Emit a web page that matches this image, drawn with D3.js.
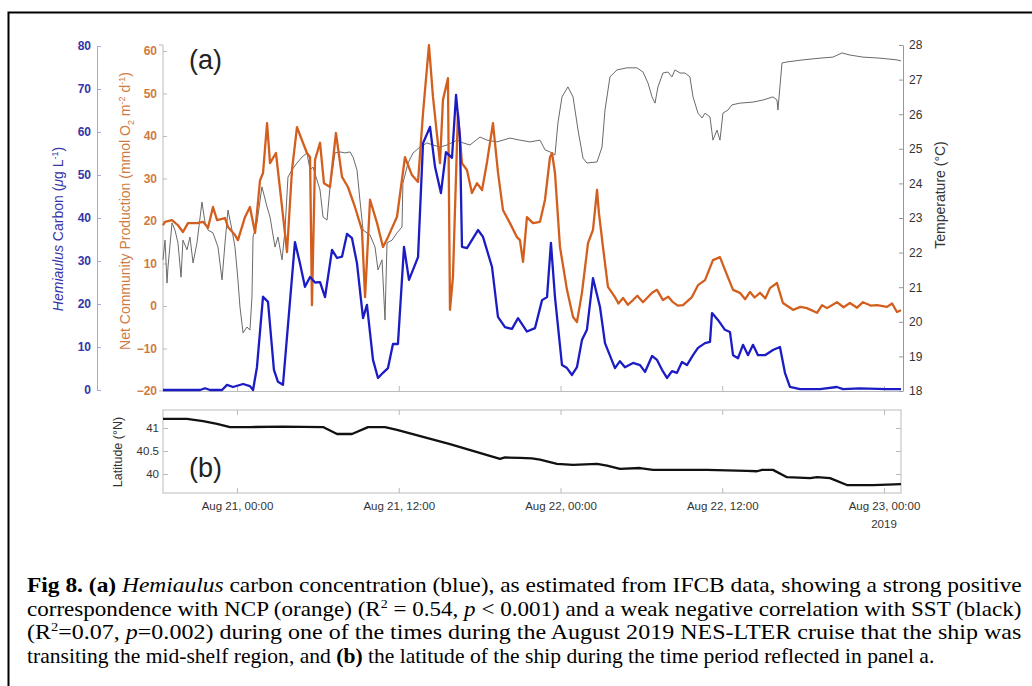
<!DOCTYPE html>
<html>
<head>
<meta charset="utf-8">
<script src="https://cdn.jsdelivr.net/npm/d3@7"></script>
<style>
  body { margin: 0; background: #fff; }
  svg { display: block; }
  .tick text { font-family: "Liberation Sans", Arial, sans-serif; }
</style>
</head>
<body>
<script>
// hours are counted from Aug 21 2019, 00:00
let carbonHours = [-5.49, -2.74, -2.37, -2.0, -1.11, -0.74, -0.30, 0.45, 0.96, 1.19, 1.48, 1.93, 2.30, 2.74, 3.04, 3.41,
  4.30, 4.67, 5.04, 5.42, 5.79, 6.16, 6.53, 7.05, 7.42, 7.79, 8.16, 8.53, 8.90, 9.35, 9.64, 10.09, 10.46, 10.83, 11.2,
  11.57, 11.94, 12.39, 12.76, 13.43, 13.8, 14.32, 14.69, 15.13, 15.5, 15.95, 16.25, 16.54, 16.69, 17.06, 17.88, 18.25,
  18.92, 19.36, 19.88, 20.4, 20.85, 21.51, 22.11, 22.63, 23.0, 23.29, 23.59, 24.11, 24.48, 24.85, 25.22, 25.59, 25.96,
  26.41, 26.93, 27.3, 28.04, 28.41, 28.78, 29.38, 29.9, 30.27, 30.79, 31.16, 31.53, 31.9, 32.27, 32.64, 33.01, 33.38,
  33.83, 34.2, 34.72, 35.09, 35.24, 35.68, 36.2, 36.57, 36.8, 37.17, 37.54, 37.91, 38.28, 38.65, 39.17, 39.76, 40.28,
  40.65, 41.02, 41.77, 43.25, 44.5, 44.96, 46.2, 48.2, 49.26];
let carbonValues = [0, 0, 0.4, 0, 0, 1.2, 0.7, 1.4, 0.9, 0, 5.3, 21.7, 20.5, 4.7, 1.9, 1.2,
  34.4, 29.5, 24, 26.3, 25, 25.1, 21.6, 32.6, 30.7, 31, 36.3, 35.3, 29.5, 16.7, 19.8, 7, 2.8, 4, 5.1,
  10.7, 10.7, 33.3, 25.6, 30.9, 57.4, 61.2, 51.9, 45.8, 55.3, 54, 68.6, 58.8, 33.3, 33, 37.2, 35.6,
  28.6, 17, 14.6, 14.2, 16.7, 13.6, 14.4, 20.9, 21.6, 34.2, 21.6, 5.8, 5.1, 3.5, 5.3, 11.6, 14,
  26, 19.3, 10.9, 5.1, 6.7, 5.3, 6.3, 5.8, 4.2, 7.9, 7, 4.7, 2.8, 4.4, 4.0, 6.5, 5.8,
  8.1, 9.8, 10.9, 11.2, 17.9, 16.3, 14, 13.5, 8.1, 7.4, 10.5, 8.1, 10.5, 8.1, 8.1, 9.3, 10,
  4, 0.7, 0.2, 0.2, 0.7, 0.2, 0.4, 0.2, 0.2];

let ncpHours = [-5.49, -5.34, -4.82, -4.38, -4.01, -3.64, -2.97, -2.52, -2.15, -1.78, -1.48, -0.89, -0.67, -0.15, 0.07,
  0.59, 0.96, 1.34, 1.71, 1.93, 2.23, 2.45, 2.89, 3.34, 3.71, 4.08, 4.45, 4.82, 5.19, 5.42, 5.56, 5.79, 6.16, 6.45,
  6.9, 7.34, 7.79, 8.23, 8.75, 9.27, 9.5, 9.87, 10.39, 10.83, 11.2, 11.87, 12.46, 12.98, 13.43, 13.8, 14.24, 14.54,
  15.06, 15.28, 15.65, 15.8, 16.02, 16.39, 16.69, 17.06, 17.43, 17.8, 18.18, 18.55, 18.99, 19.36, 19.73, 20.25, 20.77,
  20.99, 21.22, 21.51, 21.96, 22.48, 22.85, 23.22, 23.37, 23.59, 23.96, 24.48, 24.93, 25.22, 25.59, 26.04, 26.41,
  26.71, 26.85, 27.15, 27.52, 28.04, 28.3, 28.64, 29.0, 29.38, 29.7, 30.12, 30.79, 31.16, 31.6, 32.0, 32.34, 32.7,
  33.09, 33.75, 34.2, 34.72, 35.31, 35.83, 36.2, 36.8, 37.31, 37.7, 38.06, 38.4, 38.8, 39.2, 39.54, 40.06, 40.5,
  41.25, 41.8, 42.28, 43.03, 43.4, 43.77, 44.51, 45.0, 45.47, 46.0, 46.44, 47.0, 47.48, 48.22, 48.6, 48.96, 49.26];
let ncpValues = [19, 19.8, 20.2, 19, 17.4, 19.5, 19.5, 19.8, 18.4, 23.3, 20.2, 20.7, 18.6, 16.7, 15.5,
  20.9, 23.3, 17.2, 29.6, 31.3, 43, 33.6, 36, 23.3, 12.7, 32, 42.1, 39, 36, 35, 0.2, 34.4, 38.4, 28.9,
  28, 40.7, 30.4, 28, 23.3, 17.9, 2.1, 25, 19.5, 13.9, 16.2, 21, 35, 30.8, 29.2, 45.4, 61.4, 49.2,
  33.6, 48.5, 53.6, -0.9, 6.8, 45.4, 33.6, 32, 26.6, 28.9, 27.3, 33.9, 43, 31.5, 22.6, 19.5, 16.2,
  15.5, 10.4, 20.9, 19.5, 19.8, 25, 35, 36, 31.3, 13.9, 3.8, -2.6, -3.8, 3.1, 14.8, 17.9,
  27.3, 21.9, 13.9, 4.5, 2.1, 0.6, 1.9, 0.3, 1.4, 2.4, 0.9, 3.1, 3.8, 1.4, 2.2, 0.9, 0.1,
  0.2, 2.1, 4.9, 6.1, 10.8, 11.5, 8.5, 3.8, 3.1, 1.6, 3.3, 2.0, 3.1, 1.8, 4.2, 5.4, 0.7,
  -0.9, -0.2, -0.5, -1.6, 0.2, -0.5, 0.9, -0.3, 0.7, -0.4, 0.9, 0.1, 0.2, -0.2, 0.6, -1.4, -1.0];

let tempHours = [-5.49, -5.34, -5.19, -5.12, -4.82, -4.60, -4.38, -4.15, -4.01, -3.71, -3.49, -3.26, -2.97, -2.60, -2.37,
  -2.15, -1.78, -1.41, -1.11, -0.89, -0.67, -0.37, -0.15, 0.07, 0.22, 0.45, 0.74, 0.96, 1.11, 1.19, 1.48, 1.85, 2.23,
  2.45, 2.82, 3.04, 3.34, 3.56, 3.78, 4.08, 4.45, 4.82, 5.19, 5.42, 5.64, 5.93, 6.16, 6.38, 6.68, 6.90, 7.27, 7.64,
  8.01, 8.38, 8.61, 8.90, 9.12, 9.35, 9.87, 10.24, 10.46, 10.76, 10.98, 11.13, 11.50, 11.87, 12.24, 12.31, 12.69,
  13.06, 13.58, 14.09, 14.54, 15.06, 15.58, 16.32, 16.77, 17.28, 18.03, 18.55, 19.29, 20.25, 20.99, 21.74, 22.48,
  22.85, 23.22, 23.59, 23.81, 24.11, 24.55, 24.93, 25.30, 25.67, 25.96, 26.71, 27.08, 27.30, 27.67, 28.19, 28.93,
  29.67, 30.12, 30.49, 30.79, 31.01, 31.23, 31.60, 31.97, 32.27, 32.49, 32.86, 33.23, 33.60, 33.83, 34.20, 34.50,
  34.72, 35.09, 35.31, 35.61, 35.83, 36.05, 36.42, 36.72, 37.31, 38.28, 39.02, 39.76, 40.06, 40.13, 40.43, 40.80,
  41.99, 43.25, 44.21, 44.88, 45.47, 46.44, 47.70, 48.96, 49.26];
let tempValues = [21.79, 22.36, 21.12, 21.58, 22.86, 22.65, 22.28, 21.29, 22.36, 22.08, 22.45, 21.7, 22.28, 23.46, 22.86,
  22.65, 22.57, 22.16, 21.21, 22.28, 23.23, 22.65, 22.16, 21.21, 20.43, 19.68, 19.85, 19.76, 20.72, 22.45, 22.86, 23.9, 23.32,
  23.03, 22.16, 22.45, 21.79, 22.65, 24.18, 24.39, 24.59, 24.76, 24.88, 24.39, 24.47, 24.1, 23.81, 23.03, 22.94, 23.9, 24.88, 24.91,
  24.88, 24.91, 24.76, 24.39, 23.52, 22.65, 22.51, 22.16, 21.5, 21.79, 20.05, 22.28, 22.36, 22.57, 22.74, 24.01, 24.59,
  24.88, 25.05, 25.17, 25.11, 25.05, 25.11, 25.25, 25.17, 25.11, 25.34, 25.25, 25.2, 25.31, 25.25, 25.2, 25.25,
  24.97, 24.91, 24.82, 25.75, 26.5, 26.79, 26.5, 25.54, 24.73, 24.59, 24.62, 25.05, 26.12, 27.08, 27.28, 27.34,
  27.34, 27.22, 26.9, 26.5, 26.32, 26.79, 27.19, 27.22, 27.08, 27.28, 27.19, 27.19, 27.08, 26.5, 26.03, 25.89,
  26.03, 25.92, 25.25, 25.54, 25.25, 26.03, 26.12, 26.27, 26.32, 26.35, 26.41, 26.5, 26.41, 26.12, 27.48, 27.51,
  27.57, 27.62, 27.65, 27.77, 27.71, 27.65, 27.62, 27.57, 27.54];

let latHours = [-5.49, -3.71, -2.52, -1.48, -0.52, 0.96, 3.41, 6.38, 7.42, 8.53, 9.72, 10.98, 11.87, 15.80, 19.51, 19.88,
  20.99, 21.88, 22.48, 23.74, 24.93, 26.71, 27.45, 28.41, 29.90, 30.86, 34.87, 37.83, 38.58, 38.95, 39.76, 40.80,
  42.51, 43.03, 43.99, 45.25, 47.18, 49.26];
let latValues = [41.2, 41.2, 41.15, 41.09, 41.02, 41.02, 41.03, 41.02, 40.87, 40.87, 41.02, 41.02, 40.96, 40.65, 40.33, 40.36,
  40.35, 40.34, 40.31, 40.22, 40.2, 40.22, 40.18, 40.11, 40.13, 40.09, 40.09, 40.07, 40.06, 40.09, 40.09, 39.93,
  39.91, 39.93, 39.91, 39.76, 39.76, 39.78];

let carbonTicks = [0, 10, 20, 30, 40, 50, 60, 70, 80];
let ncpTicks = [-20, -10, 0, 10, 20, 30, 40, 50, 60];
let tempTicks = [18, 19, 20, 21, 22, 23, 24, 25, 26, 27, 28];
let latTicks = [40, 40.5, 41];
let timeTickHours = [0, 12, 24, 36, 48];

let base = new Date(2019, 7, 21, 0, 0);
let toDate = h => new Date(base.getTime() + h * 3600000);

let svg = d3.select("body").append("svg")
  .attr("width", 1032)
  .attr("height", 686);

svg.append("rect").attr("width", 1032).attr("height", 686).attr("fill", "#fff");
// frame round the figure
svg.append("rect")
  .attr("x", 8.5).attr("y", 12.5)
  .attr("width", 1040).attr("height", 690)
  .attr("fill", "none").attr("stroke", "#000").attr("stroke-width", 2);

let left = 163, right = 901;
let xScale = d3.scaleTime().domain([toDate(-5.49), toDate(49.26)]).range([left, right]);
let yCarbon = d3.scaleLinear().domain([0, 80]).range([390, 46]);
let yNcp = d3.scaleLinear().domain([-20, 60]).range([391, 51]);
let yTemp = d3.scaleLinear().domain([18, 28]).range([391, 45]);
let yLat = d3.scaleLinear().domain([40, 41]).range([474, 428]);

let timeTicks = timeTickHours.map(toDate);
let fmt = d3.timeFormat("%b %d, %H:%M");

function styleAxis(g, lineColor, textColor, size, weight) {
  g.select(".domain").attr("stroke", lineColor);
  g.selectAll(".tick line").attr("stroke", lineColor);
  g.selectAll(".tick text").attr("fill", textColor).style("font-size", size + "px")
    .style("font-weight", weight || "normal");
}

// ---- panel a axes
let aBottom = svg.append("g").attr("transform", "translate(0,391)")
  .call(d3.axisBottom(xScale).tickValues(timeTicks).tickSize(-5).tickSizeOuter(0).tickFormat(""));
styleAxis(aBottom, "#bbb", "#444", 11);

let carbonAxis = svg.append("g").attr("transform", "translate(97,0)")
  .call(d3.axisLeft(yCarbon).tickValues(carbonTicks).tickSize(-4).tickSizeOuter(0).tickPadding(6));
styleAxis(carbonAxis, "#a8a8d8", "#3535a8", 12, "bold");

let ncpAxis = svg.append("g").attr("transform", "translate(163,0)")
  .call(d3.axisLeft(yNcp).tickValues(ncpTicks).tickSize(-4).tickSizeOuter(0).tickPadding(6));
ncpAxis.select(".domain").attr("d", "M-4,45H0V391H-4");
styleAxis(ncpAxis, "#bbb", "#d07a42", 12, "bold");

let tempAxis = svg.append("g").attr("transform", "translate(903,0)")
  .call(d3.axisRight(yTemp).tickValues(tempTicks).tickSize(-4).tickSizeOuter(0).tickPadding(6));
styleAxis(tempAxis, "#999", "#333", 12);

// ---- panel a lines
let tempLine = d3.line().x((d, i) => xScale(toDate(tempHours[i]))).y(d => yTemp(d));
svg.append("path").datum(tempValues).attr("d", tempLine)
  .attr("fill", "none").attr("stroke", "#6a6a6a").attr("stroke-width", 1);

let ncpLine = d3.line().x((d, i) => xScale(toDate(ncpHours[i]))).y(d => yNcp(d));
svg.append("path").datum(ncpValues).attr("d", ncpLine)
  .attr("fill", "none").attr("stroke", "#d35f1f").attr("stroke-width", 2.3).attr("stroke-linejoin", "round");

let carbonLine = d3.line().x((d, i) => xScale(toDate(carbonHours[i]))).y(d => yCarbon(d));
svg.append("path").datum(carbonValues).attr("d", carbonLine)
  .attr("fill", "none").attr("stroke", "#1c1cc4").attr("stroke-width", 2.3).attr("stroke-linejoin", "round");

// axis titles panel a
let carbonTitle = svg.append("text")
  .attr("transform", "translate(63,229) rotate(-90)")
  .attr("text-anchor", "middle")
  .style("font-family", "Liberation Sans, Arial, sans-serif").style("font-size", "14px")
  .attr("fill", "#3535a8");
carbonTitle.append("tspan").style("font-style", "italic").text("Hemiaulus");
carbonTitle.append("tspan").text(" Carbon (");
carbonTitle.append("tspan").style("font-style", "italic").text("\u03bc");
carbonTitle.append("tspan").text("g L");
carbonTitle.append("tspan").attr("dy", -5).style("font-size", "9px").text("-1");
carbonTitle.append("tspan").attr("dy", 5).text(")");

let ncpTitle = svg.append("text")
  .attr("transform", "translate(130,211) rotate(-90)")
  .attr("text-anchor", "middle")
  .style("font-family", "Liberation Sans, Arial, sans-serif").style("font-size", "14px")
  .attr("fill", "#d07a42");
ncpTitle.append("tspan").text("Net Community Production (mmol O");
ncpTitle.append("tspan").attr("dy", 4).style("font-size", "9px").text("2");
ncpTitle.append("tspan").attr("dy", -4).text(" m");
ncpTitle.append("tspan").attr("dy", -5).style("font-size", "9px").text("-2");
ncpTitle.append("tspan").attr("dy", 5).text(" d");
ncpTitle.append("tspan").attr("dy", -5).style("font-size", "9px").text("-1");
ncpTitle.append("tspan").attr("dy", 5).text(")");

svg.append("text")
  .attr("transform", "translate(945,195) rotate(-90)")
  .attr("text-anchor", "middle")
  .style("font-family", "Liberation Sans, Arial, sans-serif").style("font-size", "14px")
  .attr("fill", "#333")
  .text("Temperature (\u00b0C)");

svg.append("text").attr("x", 189).attr("y", 69)
  .style("font-family", "Liberation Sans, Arial, sans-serif").style("font-size", "27px")
  .attr("fill", "#222").text("(a)");

// ---- panel b
let top2 = 410, bottom2 = 493;
svg.append("rect").attr("x", left).attr("y", top2).attr("width", right - left).attr("height", bottom2 - top2)
  .attr("fill", "none").attr("stroke", "#bbb");

let bBottom = svg.append("g").attr("transform", `translate(0,${bottom2})`)
  .call(d3.axisBottom(xScale).tickValues(timeTicks).tickSize(-5).tickSizeOuter(0).tickPadding(9).tickFormat(fmt));
styleAxis(bBottom, "#bbb", "#333", 11.5);
bBottom.select(".domain").remove();

let bTop = svg.append("g").attr("transform", `translate(0,${top2})`)
  .call(d3.axisTop(xScale).tickValues(timeTicks).tickSize(-5).tickSizeOuter(0).tickFormat(""));
styleAxis(bTop, "#bbb", "#333", 11);
bTop.select(".domain").remove();

let bLeft = svg.append("g").attr("transform", `translate(${left},0)`)
  .call(d3.axisLeft(yLat).tickValues(latTicks).tickSize(-5).tickSizeOuter(0).tickPadding(4).tickFormat(d3.format("")));
styleAxis(bLeft, "#bbb", "#333", 11.5);
bLeft.select(".domain").remove();

let bRight = svg.append("g").attr("transform", `translate(${right},0)`)
  .call(d3.axisRight(yLat).tickValues(latTicks).tickSize(-5).tickSizeOuter(0).tickFormat(""));
styleAxis(bRight, "#bbb", "#333", 11);
bRight.select(".domain").remove();

svg.append("text").attr("x", xScale(toDate(48))).attr("y", 528)
  .attr("text-anchor", "middle")
  .style("font-family", "Liberation Sans, Arial, sans-serif").style("font-size", "11.5px")
  .attr("fill", "#333").text("2019");

let latLine = d3.line().x((d, i) => xScale(toDate(latHours[i]))).y(d => yLat(d));
svg.append("path").datum(latValues).attr("d", latLine)
  .attr("fill", "none").attr("stroke", "#111").attr("stroke-width", 2.3).attr("stroke-linejoin", "round");

svg.append("text")
  .attr("transform", "translate(122,452) rotate(-90)")
  .attr("text-anchor", "middle")
  .style("font-family", "Liberation Sans, Arial, sans-serif").style("font-size", "12.5px")
  .attr("fill", "#333").text("Latitude (\u00b0N)");

svg.append("text").attr("x", 189).attr("y", 477)
  .style("font-family", "Liberation Sans, Arial, sans-serif").style("font-size", "27px")
  .attr("fill", "#222").text("(b)");

// ---- caption
let captionLines = [
  [["b", "Fig 8. (a) "], ["i", "Hemiaulus"], ["", " carbon concentration (blue), as estimated from IFCB data, showing a strong positive"]],
  [["", "correspondence with NCP (orange) (R"], ["sup", "2"], ["", " = 0.54, "], ["i", "p"], ["", " < 0.001) and a weak negative correlation with SST (black)"]],
  [["", "(R"], ["sup", "2"], ["", "=0.07, "], ["i", "p"], ["", "=0.002) during one of the times during the August 2019 NES-LTER cruise that the ship was"]],
  [["", "transiting the mid-shelf region, and "], ["b", "(b)"], ["", " the latitude of the ship during the time period reflected in panel a."]]
];
let captionWidths = [995, 995, 995, 908];
let captionY = [592, 615.5, 639, 662.5];

captionLines.forEach(function(parts, li) {
  let t = svg.append("text")
    .style("font-family", "Liberation Serif, Times New Roman, serif")
    .style("font-size", "21.5px")
    .attr("fill", "#000");
  parts.forEach(function(p) {
    let s = t.append("tspan").text(p[1]);
    if (p[0] === "b") s.style("font-weight", "bold");
    if (p[0] === "i") s.style("font-style", "italic");
    if (p[0] === "sup") s.style("font-size", "13px").attr("dy", -8);
  });
  // undo superscript shift on the following span
  t.selectAll("tspan").each(function(d, i, nodes) {
    if (i > 0 && nodes[i - 1].textContent === "2" && nodes[i - 1].getAttribute("dy") === "-8") {
      d3.select(this).attr("dy", 8);
    }
  });
  let natural = t.node().getComputedTextLength();
  t.attr("transform", `translate(27,${captionY[li]}) scale(${captionWidths[li] / natural},1)`);
});
</script>
</body>
</html>
